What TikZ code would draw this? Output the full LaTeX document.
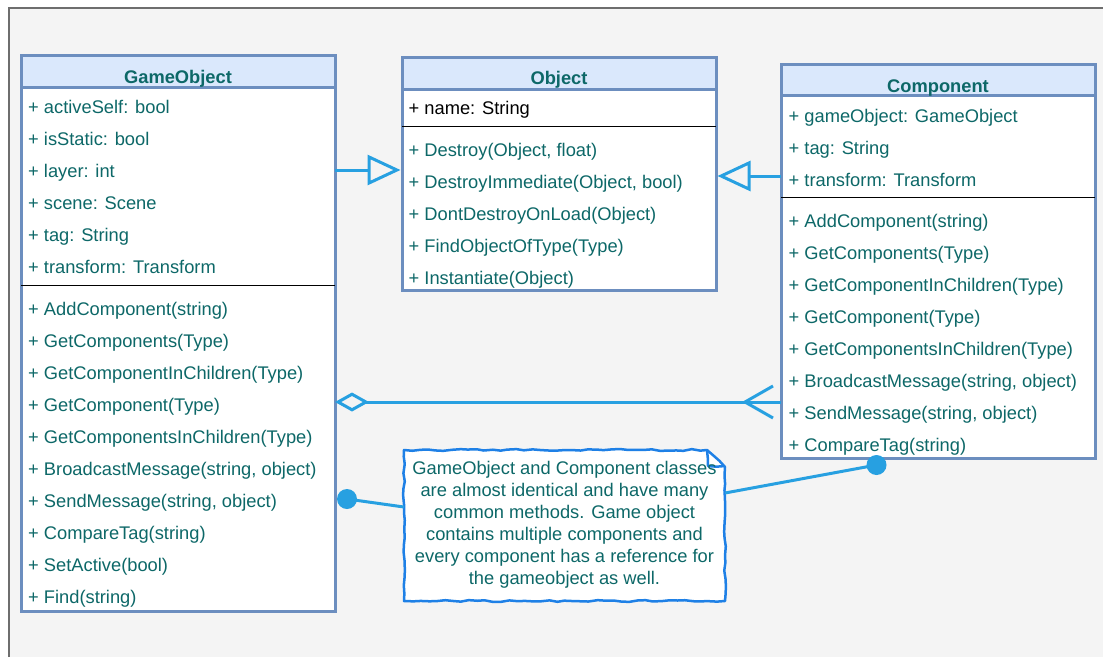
\documentclass[tikz,border=0pt]{standalone}
\usepackage{fontspec}
\setmainfont{Liberation Sans}
\usetikzlibrary{arrows.meta,decorations.pathmorphing,calc}
\definecolor{boxline}{HTML}{6C8EBF}
\definecolor{boxhead}{HTML}{DAE8FC}
\definecolor{txtc}{HTML}{0D6868}
\definecolor{connc}{HTML}{27A0E1}
\definecolor{notec}{HTML}{1E80E6}
\definecolor{paper}{HTML}{F4F4F4}
\definecolor{framec}{HTML}{6E6E6E}
\begin{document}
\begin{tikzpicture}[x=1pt,y=-1pt,
  font=\fontsize{18.3}{22}\selectfont,
  classbox/.style={draw=boxline, line width=3pt, fill=white, inner sep=0pt, outer sep=0pt},
  headbar/.style={draw=boxline, line width=3pt, fill=boxhead},
  divider/.style={draw=black, line width=1pt},
  title/.style={font=\fontsize{18.3}{22}\selectfont\bfseries, text=txtc, anchor=base, inner sep=0pt},
  member/.style={text=txtc, anchor=base west, inner sep=0pt},
  link/.style={draw=connc, line width=3pt},
  inherit/.style={link, -{Triangle[open, length=33pt, width=30pt]}, shorten >=1.5pt},
  dot/.style={circle, fill=connc, minimum size=20pt, inner sep=0pt},
  sketch/.style={draw=notec, line width=2.5pt, line join=round,
    decorate, decoration={random steps, segment length=8pt, amplitude=0.9pt}}]

\useasboundingbox (0,0) rectangle (1103,657);
% canvas
\fill[paper] (9,8) rectangle (1103,657);
\draw[framec, line width=1.5pt] (9,657) -- (9,8) -- (1103,8);

% ---------- GameObject ----------
\node[classbox, minimum width=314pt, minimum height=556pt] (go) at (178,333) {};
\draw[headbar] (go.north west) rectangle (go.east |- 0,87.5);
\node[title] (go-t) at (178,83.5) {GameObject};
\foreach \t [count=\i from 0] in {activeSelf: bool, isStatic: bool, layer: int,
    scene: Scene, tag: String, transform: Transform}
  \node[member] (go-f\i) at (28,113.5+32*\i) {+ \t};
\draw[divider] (go.west |- 0,285) -- (go.east |- 0,285);
\foreach \t [count=\i from 0] in {AddComponent(string), GetComponents(Type),
    GetComponentInChildren(Type), GetComponent(Type), GetComponentsInChildren(Type),
    {BroadcastMessage(string, object)}, {SendMessage(string, object)},
    CompareTag(string), SetActive(bool), Find(string)}
  \node[member] (go-m\i) at (28,315.3+32*\i) {+ \t};

% ---------- Object ----------
\node[classbox, minimum width=314pt, minimum height=232.5pt] (obj) at (559,173.75) {};
\draw[headbar] (obj.north west) rectangle (obj.east |- 0,89);
\node[title] (obj-t) at (559,84.5) {Object};
\node[member, text=black] (obj-f0) at (408.5,114.5) {+ name: String};
\draw[divider] (obj.west |- 0,126) -- (obj.east |- 0,126);
\foreach \t [count=\i from 0] in {{Destroy(Object, float)}, {DestroyImmediate(Object, bool)},
    DontDestroyOnLoad(Object), FindObjectOfType(Type), Instantiate(Object)}
  \node[member] (obj-m\i) at (408.5,156.5+32*\i) {+ \t};

% ---------- Component ----------
\node[classbox, minimum width=314pt, minimum height=394pt] (comp) at (938,261.3) {};
\draw[headbar] (comp.north west) rectangle (comp.east |- 0,95);
\node[title] (comp-t) at (938,92.5) {Component};
\foreach \t [count=\i from 0] in {gameObject: GameObject, tag: String, transform: Transform}
  \node[member] (comp-f\i) at (788.5,122.5+32*\i) {+ \t};
\draw[divider] (comp.west |- 0,197) -- (comp.east |- 0,197);
\foreach \t [count=\i from 0] in {AddComponent(string), GetComponents(Type),
    GetComponentInChildren(Type), GetComponent(Type), GetComponentsInChildren(Type),
    {BroadcastMessage(string, object)}, {SendMessage(string, object)}, CompareTag(string)}
  \node[member] (comp-m\i) at (788.5,227.5+32*\i) {+ \t};

% ---------- relations ----------
\draw[inherit] (go.east |- 0,170) -- (obj.west |- 0,170);
\draw[inherit] (comp.west |- 0,176) -- (obj.east |- 0,176);

\coordinate (aggend) at (comp.west |- 0,402);
\draw[link, {Diamond[open, length=34pt, width=19pt]}-] (go.east |- 0,402) -- (aggend);
\draw[link] ([xshift=-8pt,yshift=16pt]aggend) -- ([xshift=-36pt]aggend)
  -- ([xshift=-8pt,yshift=-16pt]aggend);

% ---------- note ----------
\node[minimum width=321pt, minimum height=151pt, inner sep=0pt, outer sep=0pt] (note) at (564.5,525.5) {};
\draw[sketch, fill=white] (note.south west) -- (note.north west)
  -- ([xshift=-18pt]note.north east) -- ([yshift=-17pt]note.north east)
  -- (note.south east) -- cycle;
\draw[sketch] ([xshift=-18pt]note.north east) -- ([xshift=-17pt,yshift=-16pt]note.north east)
  -- ([yshift=-16pt]note.north east);
\node[text=txtc, align=center, inner sep=0pt] (note-txt) at (564.5,524.5)
  {GameObject and Component classes\\are almost identical and have many\\common methods. Game object\\contains multiple components and\\every component has a reference for\\the gameobject as well.};

\node[dot] (d1) at (347,499) {};
\node[dot] (d2) at (876.5,465) {};
\draw[link] (d1.center) -- (note.west |- 0,507);
\draw[link] (note.east |- 0,493) -- (d2.center);
\end{tikzpicture}
\end{document}
